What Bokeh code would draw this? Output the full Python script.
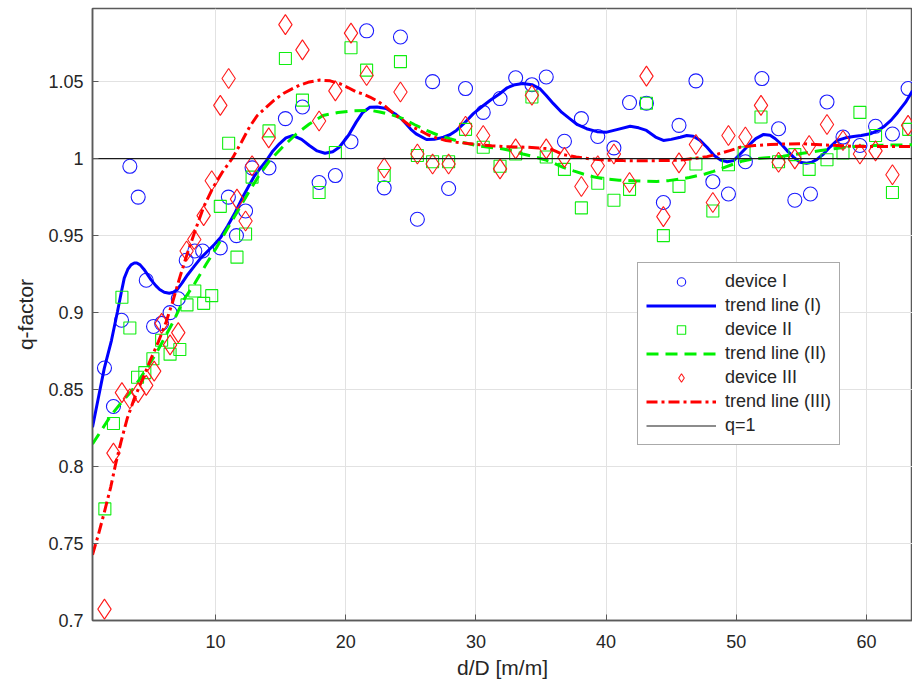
from bokeh.plotting import figure
from bokeh.models import Legend, LegendItem, FixedTicker, Range1d
from bokeh.embed import file_html
from bokeh.resources import INLINE

# ---------------- data ----------------
x_min, x_max = 0.54, 63.54
y_min, y_max = 0.7, 1.0975
q_ref = 1.0

x_ticks = [10, 20, 30, 40, 50, 60]
y_ticks = [0.7, 0.75, 0.8, 0.85, 0.9, 0.95, 1.0, 1.05]
y_tick_labels = ["0.7", "0.75", "0.8", "0.85", "0.9", "0.95", "1", "1.05"]

# device I (blue circles)
dev1_x = [1.46, 2.15, 2.77, 3.41, 4.05, 4.67, 5.23, 5.85, 6.5, 7.13, 7.74, 8.4, 9.0,
          10.36, 10.98, 11.6, 12.3, 12.8, 14.1, 15.36, 16.67, 17.95, 19.2, 20.4,
          21.6, 22.95, 24.2, 25.5, 26.67, 27.9, 29.2, 30.56, 31.85, 33.05, 34.3,
          35.4, 36.8, 38.1, 39.36, 40.6, 41.8, 43.1, 44.4, 45.6, 46.9, 48.2, 49.4,
          50.7, 51.97, 53.25, 54.5, 55.7, 56.97, 58.2, 59.5, 60.7, 62.0, 63.2]
dev1_y = [0.864, 0.839, 0.895, 0.995, 0.975, 0.921, 0.891, 0.893, 0.900, 0.909, 0.934, 0.940, 0.940,
          0.942, 0.975, 0.950, 0.966, 0.994, 0.994, 1.026, 1.0335, 0.9845, 0.989, 1.011,
          1.083, 0.981, 1.079, 0.9606, 1.050, 0.9806, 1.0455, 1.030, 1.039, 1.0525, 1.048,
          1.053, 1.0113, 1.026, 1.0144, 1.007, 1.0364, 1.036, 0.9715, 1.0216, 1.0505, 0.985, 0.977,
          0.998, 1.052, 1.0194, 0.973, 0.977, 1.0368, 1.014, 1.0085, 1.021, 1.016, 1.0455]

# device II (green squares)
dev2_x = [1.49, 2.15, 2.8, 3.41, 4.0, 4.56, 5.18, 5.85, 6.5, 7.25, 7.8, 8.4, 9.08, 9.7,
          10.36, 11.0, 11.64, 12.3, 12.8, 14.1, 15.36, 16.67, 17.95, 19.2, 20.4, 21.6,
          22.95, 24.2, 25.5, 26.67, 27.9, 29.2, 30.56, 31.85, 33.05, 34.3, 35.4, 36.8,
          38.1, 39.36, 40.6, 41.8, 43.1, 44.4, 45.6, 46.9, 48.2, 49.4, 50.6, 51.9, 53.25,
          54.5, 55.6, 56.97, 58.2, 59.5, 60.7, 62.0, 63.25]
dev2_y = [0.7725, 0.828, 0.910, 0.890, 0.858, 0.861, 0.870, 0.882, 0.873, 0.876, 0.905, 0.914, 0.906, 0.911,
          0.969, 1.010, 0.936, 0.951, 0.988, 1.018, 1.065, 1.038, 0.978, 1.004, 1.072, 1.0575,
          0.989, 1.063, 1.002, 0.998, 0.998, 1.019, 1.0074, 0.995, 1.003, 1.040, 1.001, 0.993,
          0.968, 0.984, 0.973, 0.980, 1.036, 0.950, 0.982, 0.9965, 0.966, 0.996, 1.0037, 1.027, 0.998,
          1.0026, 0.993, 0.9993, 1.0037, 1.030, 1.015, 0.978, 1.019]

# device III (red diamonds)
dev3_x = [1.46, 2.15, 2.8, 3.41, 4.05, 4.67, 5.28, 5.85, 6.5, 7.13, 7.77, 8.36, 9.08, 9.7,
          10.36, 11.0, 11.64, 12.3, 12.8, 14.08, 15.36, 16.67, 17.95, 19.2, 20.4, 21.6,
          22.95, 24.2, 25.5, 26.67, 27.9, 29.2, 30.56, 31.85, 33.05, 34.3, 35.4, 36.8,
          38.1, 39.36, 40.6, 41.8, 43.1, 44.4, 45.6, 46.9, 48.2, 49.4, 50.7, 51.9, 53.25,
          54.5, 55.6, 56.97, 58.2, 59.5, 60.7, 62.0, 63.2]
dev3_y = [0.7074, 0.8087, 0.848, 0.844, 0.848, 0.8527, 0.862, 0.893, 0.879, 0.887, 0.940, 0.9475, 0.963, 0.9856,
          1.0346, 1.052, 0.9737, 0.9595, 0.9954, 1.0135, 1.087, 1.0706, 1.0244, 1.044, 1.0815, 1.054,
          0.9939, 1.0433, 1.003, 0.9965, 0.9965, 1.021, 1.015, 0.9933, 1.0063, 1.0412, 1.0063, 1.0008,
          0.9819, 0.9954, 1.003, 0.9845, 1.0536, 0.9623, 0.9972, 1.0092, 0.9715, 1.015, 1.014, 1.0346, 0.9976,
          0.9998, 1.0085, 1.0222, 1.0118, 1.003, 1.005, 0.9895, 1.0216]

# trend line (I)
trend1_x = [0.54, 1.0, 1.44, 2.0, 2.46, 2.75, 2.98, 3.25, 3.5, 3.75, 3.95, 4.2, 4.5, 5.03, 5.4,
            5.7, 6.05, 6.44, 6.75, 7.03, 7.4, 7.85, 8.35, 8.87, 9.4, 9.9, 10.4, 10.92, 11.5,
            12.2, 12.6, 13.0, 13.5, 13.9, 14.4, 14.9, 15.4, 15.95, 16.6, 17.2, 17.8, 18.4, 19.0,
            19.5, 20.2, 20.8, 21.3, 21.85, 22.4, 23.1, 23.8, 24.4, 25.0, 25.4, 26.2, 26.8, 27.5,
            28.0, 28.5, 29.1, 29.8, 30.5, 31.1, 31.8, 32.4, 33.0, 33.6, 34.3, 34.9, 35.4, 35.95,
            36.6, 37.2, 37.8, 38.5, 39.3, 40.05, 40.9, 41.85, 42.5, 43.1, 43.8, 44.4, 45.0, 45.7,
            46.2, 46.7, 47.2, 47.75, 48.3, 48.8, 49.3, 49.8, 50.3, 50.8, 51.5, 52.1, 52.6, 53.0,
            53.5, 53.9, 54.4, 54.9, 55.4, 55.8, 56.2, 56.7, 57.2, 57.75, 58.4, 59.0, 59.6, 60.3,
            60.8, 61.3, 61.9, 62.4, 63.0, 63.54]
trend1_y = [0.8255, 0.845, 0.8636, 0.882, 0.9007, 0.913, 0.9224, 0.928, 0.931, 0.9322, 0.9322, 0.931, 0.928, 0.9214, 0.9175,
            0.915, 0.9132, 0.9126, 0.9132, 0.9148, 0.919, 0.9246, 0.930, 0.9355, 0.940, 0.9442, 0.949, 0.9562, 0.965,
            0.9769, 0.983, 0.989, 0.9945, 0.9987, 1.005, 1.0096, 1.0135, 1.015, 1.0125, 1.0085, 1.005, 1.0035, 1.0045,
            1.0074, 1.015, 1.0237, 1.030, 1.0333, 1.0335, 1.0325, 1.029, 1.0248, 1.019, 1.0161, 1.0124, 1.0125, 1.0139,
            1.0155, 1.0183, 1.023, 1.0292, 1.034, 1.0379, 1.042, 1.046, 1.048, 1.0488, 1.048, 1.0455, 1.041, 1.0357,
            1.030, 1.026, 1.022, 1.0194, 1.0175, 1.0172, 1.019, 1.021, 1.020, 1.0183, 1.014, 1.0118, 1.0125, 1.0139,
            1.015, 1.0145, 1.012, 1.0074, 1.002, 0.9991, 0.998, 0.9987, 1.003, 1.0074, 1.013, 1.0157, 1.0152, 1.0129,
            1.009, 1.0052, 1.001, 0.9976, 0.997, 0.9976, 0.9995, 1.003, 1.0075, 1.0118, 1.0135, 1.0144, 1.015, 1.0161,
            1.018, 1.0205, 1.025, 1.030, 1.0365, 1.044]

# trend line (II)
trend2_x = [0.54, 1.95, 2.7, 3.48, 4.1, 4.77, 5.4, 6.05, 6.8, 7.5, 8.4, 9.28, 10.05, 10.8, 11.7,
            12.6, 13.4, 14.15, 15.2, 16.2, 17.2, 18.25, 19.4, 20.6, 21.85, 22.6, 23.5, 24.4, 25.3,
            26.2, 27.1, 28.0, 29.0, 30.05, 31.0, 32.1, 32.9, 33.6, 34.5, 35.3, 36.0, 36.7, 37.5,
            38.25, 39.1, 40.05, 41.0, 42.1, 43.0, 43.9, 44.8, 45.7, 46.4, 47.0, 47.6, 48.25, 49.0,
            49.8, 50.5, 51.3, 52.1, 52.9, 53.6, 54.4, 55.5, 56.5, 57.5, 58.5, 59.5, 60.6, 62.0, 63.54]
trend2_y = [0.8146, 0.8331, 0.841, 0.8484, 0.856, 0.8647, 0.873, 0.8832, 0.895, 0.9077, 0.919, 0.9315, 0.942, 0.953, 0.966,
            0.979, 0.990, 0.9987, 1.008, 1.016, 1.0225, 1.028, 1.030, 1.031, 1.0314, 1.0303, 1.0285, 1.026, 1.022,
            1.0183, 1.0152, 1.0129, 1.0105, 1.0085, 1.0073, 1.0063, 1.0048, 1.003, 1.0012, 0.9993, 0.997, 0.9943, 0.992,
            0.990, 0.988, 0.9867, 0.986, 0.9856, 0.9853, 0.9852, 0.9857, 0.9867, 0.9877, 0.9889, 0.990, 0.9917, 0.994,
            0.9965, 0.9985, 0.9998, 1.0004, 1.0008, 1.0016, 1.0026, 1.004, 1.0052, 1.0064, 1.0074, 1.008, 1.0085, 1.0088, 1.009]

# trend line (III)
trend3_x = [0.54, 1.0, 1.44, 1.95, 2.3, 2.72, 3.2, 3.74, 4.4, 5.03, 5.6, 6.2, 6.7, 7.23, 7.85,
            8.5, 9.1, 9.8, 10.5, 11.33, 12.0, 12.6, 13.2, 13.9, 14.5, 15.2, 15.8, 16.46, 17.2,
            18.0, 18.8, 19.5, 20.2, 20.8, 21.3, 21.85, 22.5, 23.1, 23.7, 24.4, 25.0, 25.7, 26.3,
            27.0, 27.7, 28.5, 29.4, 30.3, 31.2, 32.1, 33.0, 33.9, 34.8, 35.7, 36.2, 36.7, 37.7,
            38.8, 40.0, 41.3, 42.6, 43.9, 44.8, 45.7, 46.7, 47.75, 48.6, 49.5, 50.3, 51.4, 52.6,
            53.9, 55.2, 56.5, 57.75, 59.0, 60.3, 61.9, 63.54]
trend3_y = [0.7427, 0.756, 0.770, 0.787, 0.801, 0.8157, 0.831, 0.844, 0.857, 0.870, 0.881, 0.894, 0.907, 0.9224, 0.939,
            0.955, 0.969, 0.9812, 0.991, 1.0008, 1.011, 1.0205, 1.028, 1.0335, 1.038, 1.0423, 1.045, 1.0477, 1.0498,
            1.051, 1.0505, 1.0488, 1.046, 1.0433, 1.042, 1.040, 1.037, 1.0335, 1.029, 1.0248, 1.021, 1.0183, 1.0155,
            1.0133, 1.0118, 1.0107, 1.0098, 1.009, 1.0083, 1.0078, 1.0076, 1.0074, 1.0069, 1.0063, 1.0045, 1.0026, 1.001,
            0.9998, 0.999, 0.9987, 0.9986, 0.9987, 0.9988, 0.9991, 1.0, 1.0013, 1.003, 1.0052, 1.0074, 1.0085, 1.0092,
            1.0095, 1.0096, 1.009, 1.0085, 1.008, 1.0078, 1.0078, 1.0078]

# ---------------- figure ----------------
FONT = "Liberation Sans"
TXT = "#262626"
AX = "#5a5a5a"

p = figure(width=912, height=688, output_backend="svg", toolbar_location=None,
           x_range=Range1d(x_min, x_max), y_range=Range1d(y_min, y_max),
           min_border_left=92, min_border_right=0, min_border_top=8, min_border_bottom=68,
           background_fill_color="white", border_fill_color="white")
p.outline_line_color = AX
p.outline_line_width = 1.5

for ax in (p.xaxis[0], p.yaxis[0]):
    ax.major_tick_in = 6
    ax.major_tick_out = 0
    ax.minor_tick_line_color = None
    ax.axis_line_color = AX
    ax.axis_line_width = 1.5
    ax.major_tick_line_color = AX
    ax.major_label_text_font = FONT
    ax.major_label_text_font_size = "18px"
    ax.major_label_text_color = TXT
    ax.axis_label_text_font = FONT
    ax.axis_label_text_font_size = "21px"
    ax.axis_label_text_font_style = "normal"
    ax.axis_label_text_color = TXT

p.xaxis.ticker = FixedTicker(ticks=x_ticks)
p.yaxis.ticker = FixedTicker(ticks=y_ticks)
p.yaxis.major_label_overrides = {t: l for t, l in zip(y_ticks, y_tick_labels)}
p.xaxis.axis_label = "d/D [m/m]"
p.yaxis.axis_label = "q-factor"
p.xaxis.major_label_standoff = 14
p.yaxis.major_label_standoff = 9
p.xaxis.axis_label_standoff = 5
p.yaxis.axis_label_standoff = 8

p.xgrid.ticker = FixedTicker(ticks=x_ticks)
p.ygrid.ticker = FixedTicker(ticks=y_ticks)
p.grid.grid_line_color = "#e2e2e2"
p.grid.grid_line_width = 1

r1 = p.scatter(dev1_x, dev1_y, marker="circle", size=14, fill_color=None,
               line_color="#1a1aff", line_width=1.1)
t1 = p.line(trend1_x, trend1_y, line_color="#0000ff", line_width=3)
r2 = p.scatter(dev2_x, dev2_y, marker="square", size=12, fill_color=None,
               line_color="#10ee10", line_width=1.1)
t2 = p.line(trend2_x, trend2_y, line_color="#00f000", line_width=3, line_dash="12 7")
r3 = p.scatter(dev3_x, dev3_y, marker="diamond", size=20, fill_color=None,
               line_color="#ff1a1a", line_width=1.1)
t3 = p.line(trend3_x, trend3_y, line_color="#ff0000", line_width=3, line_dash="11 4 3 4")
q = p.line([x_min, x_max], [q_ref, q_ref], line_color="#1a1a1a", line_width=1.2)

legend = Legend(items=[
    LegendItem(label="device I", renderers=[r1]),
    LegendItem(label="trend line (I)", renderers=[t1]),
    LegendItem(label="device II", renderers=[r2]),
    LegendItem(label="trend line (II)", renderers=[t2]),
    LegendItem(label="device III", renderers=[r3]),
    LegendItem(label="trend line (III)", renderers=[t3]),
    LegendItem(label="q=1", renderers=[q]),
], location=(545, 175))
legend.border_line_color = "#555555"
legend.border_line_width = 1.5
legend.background_fill_color = "white"
legend.background_fill_alpha = 1
legend.label_text_font = FONT
legend.label_text_font_size = "18px"
legend.label_text_color = TXT
legend.glyph_width = 70
legend.glyph_height = 21
legend.label_height = 21
legend.spacing = 3
legend.padding = 8
legend.margin = 0
legend.label_standoff = 9
p.add_layout(legend, "center")

open("out.html", "w").write(file_html(p, INLINE))
